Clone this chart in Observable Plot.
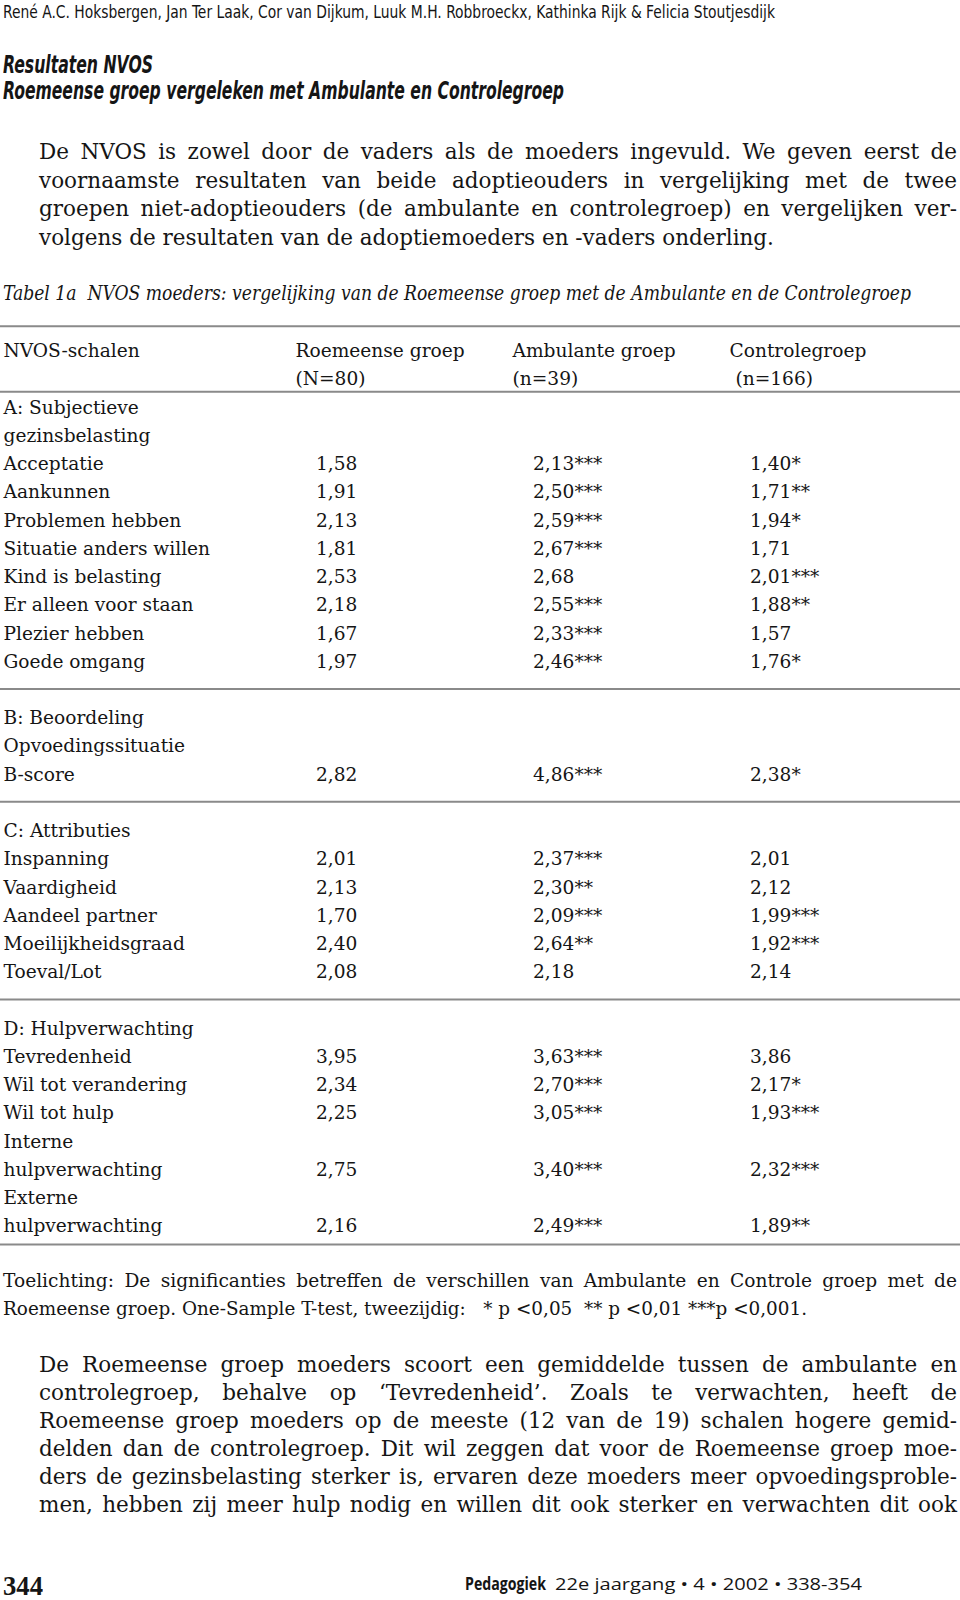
<!DOCTYPE html>
<html><head><meta charset="utf-8">
<script src="https://cdn.jsdelivr.net/npm/d3@7"></script>
<script src="https://cdn.jsdelivr.net/npm/@observablehq/plot@0.6"></script>
<style>
html,body{margin:0;padding:0;background:#fff;}
#page{position:relative;width:960px;height:1600px;overflow:hidden;color:#151515;}
.ln{position:absolute;white-space:pre;line-height:1;}
.ln > span.t{display:inline-block;transform-origin:0 0;}
.ln > span.m{display:inline-block;width:0;height:0;}
#table{position:absolute;left:0;top:310px;}
</style></head><body><div id="page"><div id="table"></div></div>
<script>
// ---------- data ----------
const groups = ["Roemeense groep", "Ambulante groep", "Controlegroep"];
const groupN = ["(N=80)", "(n=39)", "\u00a0(n=166)"];
const firstColumnHeader = "NVOS-schalen";
const sectionTitles = [["A: Subjectieve", "gezinsbelasting"], ["B: Beoordeling", "Opvoedingssituatie"], ["C: Attributies"], ["D: Hulpverwachting"]];
const scaleNames = ["Acceptatie", "Aankunnen", "Problemen hebben", "Situatie anders willen", "Kind is belasting", "Er alleen voor staan", "Plezier hebben", "Goede omgang",
  "B-score",
  "Inspanning", "Vaardigheid", "Aandeel partner", "Moeilijkheidsgraad", "Toeval/Lot",
  "Tevredenheid", "Wil tot verandering", "Wil tot hulp", "Interne\nhulpverwachting", "Externe\nhulpverwachting"];
const scaleSection = [0,0,0,0,0,0,0,0, 1, 2,2,2,2,2, 3,3,3,3,3];
const roemeense = [1.58,1.91,2.13,1.81,2.53,2.18,1.67,1.97, 2.82, 2.01,2.13,1.70,2.40,2.08, 3.95,2.34,2.25,2.75,2.16];
const ambulante = [2.13,2.50,2.59,2.67,2.68,2.55,2.33,2.46, 4.86, 2.37,2.30,2.09,2.64,2.18, 3.63,2.70,3.05,3.40,2.49];
const ambulanteSig = ["***","***","***","***","","***","***","***", "***", "***","**","***","**","", "***","***","***","***","***"];
const controle = [1.40,1.71,1.94,1.71,2.01,1.88,1.57,1.76, 2.38, 2.01,2.12,1.99,1.92,2.14, 3.86,2.17,1.93,2.32,1.89];
const controleSig = ["*","**","*","","***","**","","*", "*", "","","***","***","", "","*","***","***","**"];

const authorLine = "René A.C. Hoksbergen, Jan Ter Laak, Cor van Dijkum, Luuk M.H. Robbroeckx, Kathinka Rijk & Felicia Stoutjesdijk";
const heading = ["Resultaten NVOS", "Roemeense groep vergeleken met Ambulante en Controlegroep"];
const paragraph1 = [
  "De NVOS is zowel door de vaders als de moeders ingevuld. We geven eerst de",
  "voornaamste resultaten van beide adoptieouders in vergelijking met de twee",
  "groepen niet-adoptieouders (de ambulante en controlegroep) en vergelijken ver-",
  "volgens de resultaten van de adoptiemoeders en -vaders onderling."];
const tableCaption = "Tabel 1a  NVOS moeders: vergelijking van de Roemeense groep met de Ambulante en de Controlegroep";
const tableNote = [
  "Toelichting: De significanties betreffen de verschillen van Ambulante en Controle groep met de",
  "Roemeense groep. One-Sample T-test, tweezijdig:   * p <0,05  ** p <0,01 ***p <0,001."];
const paragraph2 = [
  "De Roemeense groep moeders scoort een gemiddelde tussen de ambulante en",
  "controlegroep, behalve op ‘Tevredenheid’. Zoals te verwachten, heeft de",
  "Roemeense groep moeders op de meeste (12 van de 19) schalen hogere gemid-",
  "delden dan de controlegroep. Dit wil zeggen dat voor de Roemeense groep moe-",
  "ders de gezinsbelasting sterker is, ervaren deze moeders meer opvoedingsproble-",
  "men, hebben zij meer hulp nodig en willen dit ook sterker en verwachten dit ook"];
const pageNumber = "344";
const journal = "Pedagogiek";
const journalInfo = "22e jaargang • 4 • 2002 • 338-354";

// ---------- text helper ----------
const page = document.getElementById("page");
function place(text, {x, base, width, font, mode = "none"}) {
  const div = document.createElement("div");
  div.className = "ln";
  div.style.left = x + "px";
  div.style.top = "0px";
  div.style.font = font;
  const t = document.createElement("span"); t.className = "t"; t.textContent = text;
  const m = document.createElement("span"); m.className = "m";
  div.append(t, m);
  page.append(div);
  const w = t.getBoundingClientRect().width;
  const spaces = (text.match(/ /g) || []).length;
  if (mode === "justify") {
    if (w < width && spaces) t.style.wordSpacing = ((width - w) / spaces) + "px";
    else if (w > width) t.style.transform = `scaleX(${width / w})`;
  } else if (mode === "fit") {
    t.style.transform = `scaleX(${width / w})`;
  }
  const b = m.getBoundingClientRect().top - page.getBoundingClientRect().top;
  div.style.top = (base - b) + "px";
}
const SANS_C = "'Liberation Sans Narrow', 'DejaVu Sans Condensed', 'DejaVu Sans', sans-serif";
const SERIF = "'DejaVu Serif', serif";

place(authorLine, {x: 3, base: 18, width: 772, font: `condensed 18px ${SANS_C}`, mode: "fit"});
place(heading[0], {x: 3, base: 72.5, width: 150, font: `italic 600 condensed 24px ${SANS_C}`, mode: "fit"});
place(heading[1], {x: 3, base: 98.5, width: 561, font: `italic 600 condensed 24px ${SANS_C}`, mode: "fit"});
paragraph1.forEach((s, i) => place(s, {x: 39, base: 159 + 28.57 * i, width: 918, font: `21.5px ${SERIF}`, mode: i < paragraph1.length - 1 ? "justify" : "none"}));
place(tableCaption, {x: 3, base: 299.5, width: 908, font: `italic condensed 19.5px ${SERIF}`, mode: "fit"});
place(tableNote[0], {x: 3, base: 1287, width: 954, font: `18.6px ${SERIF}`, mode: "justify"});
place(tableNote[1], {x: 3, base: 1315, width: 804, font: `18.6px ${SERIF}`, mode: "fit"});
paragraph2.forEach((s, i) => place(s, {x: 39, base: 1371.5 + 28.16 * i, width: 918, font: `21.5px ${SERIF}`, mode: "justify"}));
place(pageNumber, {x: 3, base: 1595, width: 40, font: `bold 28px 'Liberation Serif', serif`, mode: "fit"});
place(journal, {x: 465, base: 1590, width: 81, font: `bold 18px 'Open Sans', sans-serif`, mode: "fit"});
place(journalInfo, {x: 555, base: 1590, width: 307, font: `16.5px 'Open Sans', sans-serif`, mode: "fit"});

// ---------- table (Plot) ----------
const fmt = d3.formatLocale({decimal: ",", thousands: ".", grouping: [3], currency: ["", "€"]}).format(".2f");
const labelRows = [{row: 0, text: firstColumnHeader}];
const headerCells = [];
groups.forEach((g, j) => { headerCells.push({group: g, row: 0, text: g}); headerCells.push({group: g, row: 1, text: groupN[j]}); });
const valueCells = [];
const sectionEnd = [];
let k = 2;
sectionTitles.forEach((title, s) => {
  title.forEach(line => labelRows.push({row: k++, text: line}));
  scaleNames.forEach((name, i) => {
    if (scaleSection[i] !== s) return;
    name.split("\n").forEach(p => labelRows.push({row: k++, text: p}));
    const r = k - 1;
    valueCells.push({group: groups[0], row: r, text: fmt(roemeense[i])});
    valueCells.push({group: groups[1], row: r, text: fmt(ambulante[i]) + ambulanteSig[i]});
    valueCells.push({group: groups[2], row: r, text: fmt(controle[i]) + controleSig[i]});
  });
  sectionEnd.push(k - 1);
  k++;
});
const ruleRows = [-1.1, 1.22, ...sectionEnd.slice(0, -1).map(e => e + 0.75), sectionEnd[sectionEnd.length - 1] + 0.43];

const chart = Plot.plot({
  width: 960,
  height: 950,
  margin: 0,
  x: {type: "point", domain: groups, range: [294, 729], padding: 0, axis: null},
  y: {domain: [-46.7 / 28.23, 903.3 / 28.23], range: [0, 950], axis: null},
  style: {fontFamily: SERIF, fontSize: "18.6px", color: "#151515", background: "transparent", overflow: "visible"},
  marks: [
    Plot.ruleY(ruleRows, {stroke: "#8a8a8a", strokeWidth: 2}),
    Plot.text(labelRows, {y: "row", text: "text", frameAnchor: "left", dx: 3, textAnchor: "start", lineAnchor: "bottom", fontSize: 18.6}),
    Plot.text(headerCells, {x: "group", y: "row", text: "text", textAnchor: "start", lineAnchor: "bottom", fontSize: 18.6}),
    Plot.text(valueCells, {x: "group", y: "row", text: "text", textAnchor: "start", lineAnchor: "bottom", dx: 20.5, fontSize: 18.6})
  ]
});
document.getElementById("table").append(chart);
</script>
</body></html>
